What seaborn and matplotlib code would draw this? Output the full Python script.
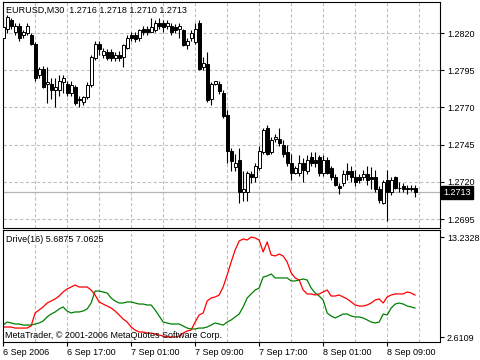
import matplotlib
matplotlib.use("Agg")
import matplotlib.pyplot as plt
import seaborn as sns
import numpy as np
import pandas as pd
from matplotlib.transforms import blended_transform_factory

sns.set_style("white")
plt.rcParams['font.family'] = ['Liberation Sans', 'DejaVu Sans']

# ---- data (EURUSD M30, bars from 6 Sep 2006 09:00) ----
opens = [1.2817, 1.2823, 1.2829, 1.2821, 1.2825, 1.2819, 1.2820, 1.2819, 1.2813, 1.2792,
         1.2796, 1.2786, 1.2786, 1.2782, 1.2782, 1.2787, 1.2786, 1.2780, 1.2784, 1.2776,
         1.2774, 1.2777, 1.2785, 1.2803, 1.2813, 1.2805, 1.2807, 1.2807, 1.2803, 1.2805,
         1.2804, 1.2810, 1.2819, 1.2819, 1.2817, 1.2823, 1.2823, 1.2821, 1.2822, 1.2827,
         1.2827, 1.2825, 1.2825, 1.2824, 1.2823, 1.2822, 1.2812, 1.2817, 1.2814, 1.2827,
         1.2797, 1.2799, 1.2776, 1.2786, 1.2786, 1.2780, 1.2765, 1.2741, 1.2730, 1.2735,
         1.2713, 1.2713, 1.2725, 1.2723, 1.2729, 1.2740, 1.2756, 1.2740, 1.2749, 1.2749,
         1.2745, 1.2740, 1.2733, 1.2726, 1.2726, 1.2733, 1.2727, 1.2737, 1.2735, 1.2737,
         1.2726, 1.2735, 1.2729, 1.2723, 1.2717, 1.2719, 1.2727, 1.2727, 1.2723, 1.2723,
         1.2723, 1.2725, 1.2723, 1.2723, 1.2715, 1.2706, 1.2721, 1.2713, 1.2723, 1.2716,
         1.2717, 1.2716, 1.2716, 1.2716]
highs = [1.2829, 1.2832, 1.2830, 1.2827, 1.2827, 1.2822, 1.2827, 1.2820, 1.2814, 1.2797,
         1.2798, 1.2797, 1.2790, 1.2790, 1.2792, 1.2792, 1.2788, 1.2788, 1.2785, 1.2778,
         1.2778, 1.2787, 1.2805, 1.2815, 1.2815, 1.2810, 1.2809, 1.2809, 1.2807, 1.2808,
         1.2813, 1.2819, 1.2821, 1.2821, 1.2823, 1.2825, 1.2825, 1.2830, 1.2829, 1.2830,
         1.2829, 1.2829, 1.2827, 1.2826, 1.2827, 1.2823, 1.2817, 1.2822, 1.2827, 1.2829,
         1.2804, 1.2807, 1.2787, 1.2788, 1.2788, 1.2782, 1.2768, 1.2743, 1.2739, 1.2743,
         1.2727, 1.2727, 1.2727, 1.2733, 1.2744, 1.2756, 1.2758, 1.2750, 1.2752, 1.2756,
         1.2748, 1.2745, 1.2739, 1.2731, 1.2738, 1.2736, 1.2738, 1.2740, 1.2740, 1.2738,
         1.2738, 1.2737, 1.2731, 1.2725, 1.2719, 1.2728, 1.2733, 1.2731, 1.2728, 1.2725,
         1.2728, 1.2731, 1.2730, 1.2728, 1.2717, 1.2721, 1.2728, 1.2723, 1.2724, 1.2720,
         1.2719, 1.2718, 1.2718, 1.2718]
lows = [1.2816, 1.2820, 1.2823, 1.2819, 1.2815, 1.2817, 1.2819, 1.2812, 1.2788, 1.2790,
        1.2783, 1.2773, 1.2776, 1.2770, 1.2778, 1.2780, 1.2778, 1.2778, 1.2772, 1.2770,
        1.2772, 1.2776, 1.2784, 1.2802, 1.2805, 1.2803, 1.2802, 1.2801, 1.2801, 1.2801,
        1.2797, 1.2809, 1.2815, 1.2814, 1.2815, 1.2819, 1.2819, 1.2821, 1.2821, 1.2823,
        1.2821, 1.2823, 1.2819, 1.2820, 1.2817, 1.2811, 1.2809, 1.2815, 1.2813, 1.2795,
        1.2795, 1.2774, 1.2772, 1.2785, 1.2779, 1.2763, 1.2733, 1.2727, 1.2727, 1.2706,
        1.2707, 1.2707, 1.2719, 1.2720, 1.2728, 1.2739, 1.2738, 1.2739, 1.2747, 1.2744,
        1.2737, 1.2731, 1.2721, 1.2725, 1.2724, 1.2720, 1.2725, 1.2731, 1.2730, 1.2724,
        1.2724, 1.2725, 1.2721, 1.2717, 1.2712, 1.2717, 1.2721, 1.2720, 1.2717, 1.2719,
        1.2721, 1.2718, 1.2715, 1.2713, 1.2706, 1.2705, 1.2694, 1.2711, 1.2715, 1.2713,
        1.2713, 1.2712, 1.2714, 1.2710]
closes = [1.2824, 1.2831, 1.2825, 1.2825, 1.2817, 1.2821, 1.2825, 1.2813, 1.2790, 1.2796,
          1.2784, 1.2787, 1.2782, 1.2784, 1.2788, 1.2790, 1.2780, 1.2785, 1.2773, 1.2775,
          1.2777, 1.2785, 1.2804, 1.2813, 1.2809, 1.2808, 1.2803, 1.2803, 1.2805, 1.2803,
          1.2812, 1.2817, 1.2817, 1.2816, 1.2822, 1.2821, 1.2821, 1.2824, 1.2827, 1.2825,
          1.2824, 1.2827, 1.2821, 1.2822, 1.2825, 1.2812, 1.2815, 1.2820, 1.2823, 1.2796,
          1.2800, 1.2775, 1.2786, 1.2788, 1.2781, 1.2764, 1.2741, 1.2734, 1.2733, 1.2713,
          1.2715, 1.2726, 1.2723, 1.2731, 1.2741, 1.2755, 1.2739, 1.2748, 1.2750, 1.2746,
          1.2739, 1.2733, 1.2726, 1.2729, 1.2733, 1.2728, 1.2735, 1.2733, 1.2733, 1.2726,
          1.2735, 1.2726, 1.2723, 1.2718, 1.2716, 1.2725, 1.2725, 1.2723, 1.2720, 1.2721,
          1.2725, 1.2721, 1.2722, 1.2715, 1.2708, 1.2720, 1.2713, 1.2721, 1.2716, 1.2716,
          1.2715, 1.2715, 1.2715, 1.2713]

drive_red = [3.68, 3.68, 3.68, 3.57, 3.57, 3.57, 3.57, 3.79, 5.17, 5.49,
             5.81, 6.23, 6.44, 6.66, 6.97, 7.40, 7.72, 7.93, 8.14, 7.93,
             7.93, 7.93, 7.61, 7.08, 6.34, 6.12, 5.91, 5.70, 5.38, 4.96,
             4.53, 4.21, 3.68, 3.36, 3.15, 3.15, 3.04, 3.04, 2.94, 2.83,
             2.72, 2.62, 2.62, 2.62, 2.72, 3.04, 3.26, 3.36, 4.21, 4.96,
             5.17, 6.44, 6.76, 6.87, 7.08, 7.93, 9.20, 10.58, 11.86, 12.81,
             13.03, 12.92, 13.23, 13.13, 12.92, 11.65, 12.71, 11.33, 11.22, 11.43,
             11.22, 10.58, 9.42, 8.89, 8.67, 7.61, 7.19, 7.19, 7.08, 7.19,
             7.40, 7.61, 6.97, 6.97, 7.08, 6.87, 6.66, 6.34, 6.02, 5.91,
             5.91, 6.02, 6.23, 6.55, 6.66, 6.23, 6.87, 7.08, 7.19, 7.19,
             7.19, 7.40, 7.29, 7.0625]
drive_green = [3.89, 4.21, 4.11, 4.00, 4.00, 3.89, 3.89, 3.89, 4.00, 4.11,
               4.32, 4.75, 5.06, 5.28, 5.59, 5.81, 5.38, 5.17, 5.28, 5.28,
               5.38, 5.59, 6.23, 7.50, 7.50, 7.40, 7.29, 6.76, 6.44, 6.23,
               6.23, 6.34, 6.34, 6.23, 6.12, 6.12, 6.02, 6.02, 5.49, 4.85,
               4.21, 4.11, 4.00, 4.00, 4.00, 3.79, 3.57, 3.47, 3.47, 3.57,
               3.57, 3.68, 3.89, 4.11, 4.00, 3.89, 4.21, 4.43, 4.75, 5.06,
               5.81, 6.76, 7.19, 7.61, 7.82, 8.99, 9.10, 9.31, 8.89, 8.89,
               8.89, 8.89, 8.57, 8.57, 8.67, 8.78, 8.67, 7.82, 7.29, 6.97,
               6.55, 5.17, 4.85, 4.64, 4.85, 5.06, 5.06, 4.85, 4.75, 4.75,
               4.64, 4.43, 4.21, 4.11, 4.21, 5.06, 4.96, 5.70, 6.12, 6.23,
               6.12, 5.91, 5.81, 5.6875]

price_ticks = [1.2820, 1.2795, 1.2770, 1.2745, 1.2720, 1.2695]
time_tick_bars = [0, 16, 32, 48, 64, 80, 96]
time_tick_labels = ["6 Sep 2006", "6 Sep 17:00", "7 Sep 01:00", "7 Sep 09:00",
                    "7 Sep 17:00", "8 Sep 01:00", "8 Sep 09:00"]
last_price = 1.2713
ind_ticks = [2.6109, 13.2328]

# ---- figure ----
W, H = 480, 360
fig = plt.figure(figsize=(W / 100, H / 100), dpi=100)
fig.patch.set_facecolor("white")


def rect(x0, y0, x1, y1):
    return [x0 / W, 1 - y1 / H, (x1 - x0) / W, (y1 - y0) / H]


ax = fig.add_axes(rect(2.5, 2, 440, 228))
ax2 = fig.add_axes(rect(2.5, 230, 440, 342))

n = len(closes)
idx = np.arange(n)
o = np.array(opens); h = np.array(highs); l = np.array(lows); c = np.array(closes)

xlim = (-0.15, 109.2)
grid_kw = dict(color="#c0c0c0", lw=0.8, ls=(0, (3, 2)), zorder=0)
for a in (ax, ax2):
    for gx in range(8, 110, 8):
        a.axvline(gx, **grid_kw)
for py in price_ticks:
    ax.axhline(py, **grid_kw)
ax.axhline(last_price, color="#b4b4b4", lw=0.9, zorder=1)

# candles
ax.vlines(idx, l, h, color="black", lw=0.8, zorder=2)
up = c >= o
bottoms = np.minimum(o, c)
heights = np.maximum(np.abs(c - o), 0.000004)
ax.bar(idx, heights, bottom=bottoms, width=0.7,
       color=np.where(up, "white", "black"), edgecolor="black",
       linewidth=0.7, zorder=3)

ax.set_xlim(*xlim)
ax.set_ylim(1.2689, 1.28409)
ax.yaxis.tick_right()
ax.set_yticks(price_ticks)
ax.set_yticklabels([f"{p:.4f}" for p in price_ticks])
ax.set_xticks([])
ax.tick_params(axis="y", direction="out", length=3, width=0.8, pad=2,
               labelsize=6.5, colors="black", right=True)

trans = blended_transform_factory(ax.transAxes, ax.transData)
ax.text(1.0 + 3.5 / 437.5, last_price, f"{last_price:.4f}", transform=trans,
        ha="left", va="center", color="white", fontsize=6.5, clip_on=False,
        bbox=dict(boxstyle="square,pad=0.25", fc="black", ec="black"), zorder=5)

# indicator
df = pd.DataFrame({"bar": idx, "red": drive_red, "green": drive_green})
sns.lineplot(data=df, x="bar", y="green", color="#008000", lw=0.9, ax=ax2)
sns.lineplot(data=df, x="bar", y="red", color="#ff0000", lw=0.9, ax=ax2)
ax2.set_xlim(*xlim)
ax2.set_ylim(2.09, 13.98)
ax2.yaxis.tick_right()
ax2.set_yticks(ind_ticks)
ax2.set_yticklabels([f"{v:.4f}" for v in ind_ticks])
ax2.set_xticks(time_tick_bars)
ax2.set_xticklabels(time_tick_labels)
for lab in ax2.get_xticklabels():
    lab.set_ha("left")
ax2.tick_params(axis="y", direction="out", length=3, width=0.8, pad=2,
                labelsize=6.5, colors="black", right=True)
ax2.tick_params(axis="x", direction="out", length=3, width=0.8, pad=1.5,
                labelsize=6.5, colors="black", bottom=True)
ax2.set_xlabel("")
ax2.set_ylabel("")

for a in (ax, ax2):
    for s in a.spines.values():
        s.set_color("black")
        s.set_linewidth(0.8)
        s.set_visible(True)

fig.text(6 / W, 1 - 10 / H, "EURUSD,M30  1.2716 1.2718 1.2710 1.2713",
         fontsize=6.5, va="center", ha="left", color="black")
fig.text(6 / W, 1 - 240 / H, "Drive(16) 5.6875 7.0625",
         fontsize=6.5, va="center", ha="left", color="black")
fig.text(5 / W, 1 - 335 / H, "MetaTrader, © 2001-2006 MetaQuotes Software Corp.",
         fontsize=6.5, va="center", ha="left", color="black", zorder=10)

fig.savefig("out.png", dpi=100, facecolor="white")
